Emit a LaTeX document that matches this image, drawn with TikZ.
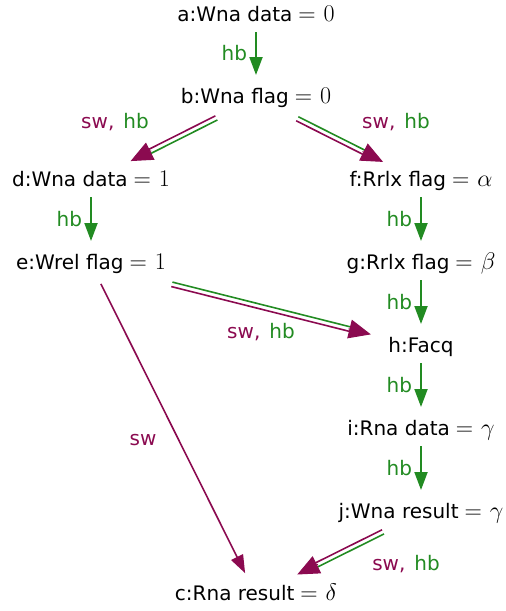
\RequirePackage{fix-cm}
\documentclass[tikz,border=0pt]{standalone}
\usepackage{fontspec}
\setmainfont{DejaVu Sans}
\usetikzlibrary{arrows.meta,calc}
\definecolor{swc}{RGB}{139,10,80}
\definecolor{hbc}{RGB}{34,139,34}
\newcommand\eqv[1]{\kern6pt{\fontsize{24}{24}\selectfont$=$\kern8pt$#1$}}
\newcommand\swhb[4]{%
  \path (#1.center) -- (#2.center) coordinate[pos=#3] (es) coordinate[pos=#4] (et);
  \draw[hbc, line width=1.6pt, shorten >=12pt] ($(es)!2.3pt!90:(et)$) -- ($(et)!2.3pt!-90:(es)$);
  \draw[swc, line width=1.6pt, shorten >=12pt] ($(es)!2.3pt!-90:(et)$) -- ($(et)!2.3pt!90:(es)$);
  \draw[swc, line width=1pt, -{Triangle[length=22pt,width=19pt]}] ($(et)!23pt!(es)$) -- (et);
}
\tikzset{
  txt/.style={font=\fontsize{20}{24}\selectfont, text height=14pt, text depth=4pt, inner sep=2pt},
  lab/.style={font=\fontsize{20}{24}\selectfont, inner sep=0pt},
  hbarrow/.style={draw=hbc, line width=2pt, -{Triangle[length=18pt,width=13pt]}},
}
\begin{document}
\begin{tikzpicture}[x=1pt,y=-1pt]
\useasboundingbox (0,0) rectangle (506,611);
\node[txt] (a) at (256,16) {a:Wna data\eqv{0}};
\node[txt] (b) at (256,98) {b:Wna flag\eqv{0}};
\node[txt] (d) at (91,181) {d:Wna data\eqv{1}};
\node[txt] (f) at (421,181) {f:Rrlx flag\eqv{\alpha}};
\node[txt] (e) at (91,264) {e:Wrel flag\eqv{1}};
\node[txt] (g) at (421,264) {g:Rrlx flag\eqv{\beta}};
\node[txt] (h) at (421,347) {h:Facq};
\node[txt] (i) at (421,430) {i:Rna data\eqv{\gamma}};
\node[txt] (j) at (421,513) {j:Wna result\eqv{\gamma}};
\node[txt] (c) at (256,595) {c:Rna result\eqv{\delta}};
% hb arrows
\foreach \s/\t in {a/b, d/e, f/g, g/h, h/i, i/j}{
  \draw[hbarrow] ($(\s.center)+(0,16)$) -- ($(\t.center)+(0,-23)$)
    node[midway, left=8pt, lab, text=hbc] {hb};
}
% sw, hb double edges
\swhb{b}{d}{0.24}{0.76}
\swhb{b}{f}{0.25}{0.77}
\swhb{e}{h}{0.245}{0.848}
\swhb{j}{c}{0.23}{0.75}
% sw single
\path (e.center) -- (c.center) coordinate[pos=0.06] (ec0) coordinate[pos=0.934] (ec1);
\draw[swc, line width=1.6pt, -{Triangle[length=18pt,width=13pt]}] (ec0) -- (ec1);
% labels
\node[lab] (l1) at (115,122) {\textcolor{swc}{sw,}\hspace{9pt}\textcolor{hbc}{hb}};
\node[lab] (l2) at (396,122) {\textcolor{swc}{sw,}\hspace{9pt}\textcolor{hbc}{hb}};
\node[lab] (l3) at (261,332) {\textcolor{swc}{sw,}\hspace{9pt}\textcolor{hbc}{hb}};
\node[lab] (l4) at (406,564) {\textcolor{swc}{sw,}\hspace{9pt}\textcolor{hbc}{hb}};
\node[lab, text=swc] (l5) at (143,440) {sw};
\end{tikzpicture}
\end{document}
